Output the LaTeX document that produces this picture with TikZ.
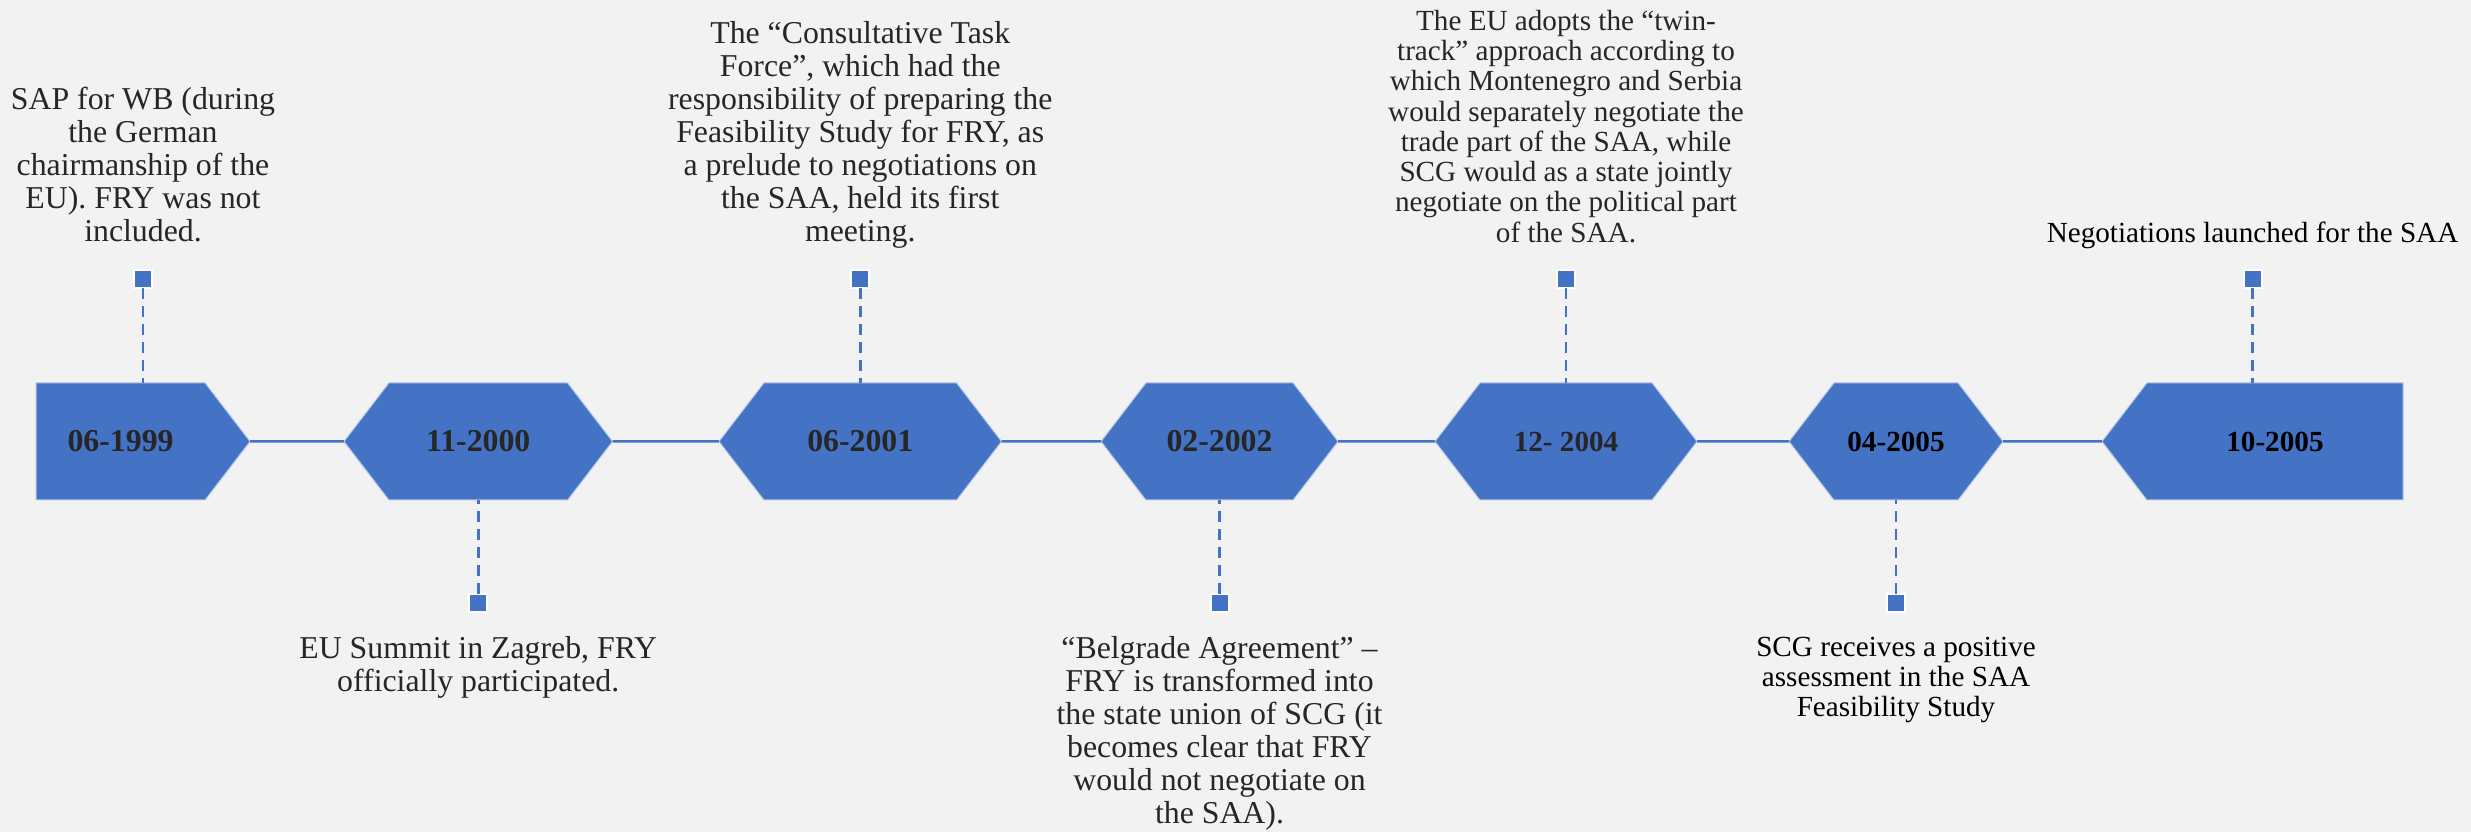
\documentclass[tikz,border=0pt]{standalone}
\usepackage{fontspec}
\setmainfont{Liberation Serif}
\usetikzlibrary{positioning,shapes.symbols}
\definecolor{tlblue}{HTML}{4472C4}
\definecolor{tledge}{HTML}{B4C7E7}
\definecolor{tlback}{HTML}{F2F2F2}
\definecolor{tltext}{HTML}{262626}

\begin{document}
\begin{tikzpicture}[datebox/.style={signal, signal pointer angle=105, fill=tlblue, draw=tledge, line width=0.01cm,
    minimum height=1.17cm, inner sep=0, outer sep=0, text=tltext,
    font=\fontsize{9.05pt}{9.4pt}\selectfont\bfseries},
  smalldate/.style={font=\fontsize{8.3pt}{8.62pt}\selectfont\bfseries},
  hexa/.style={signal to=west and east},
  sqmark/.style={rectangle, fill=tlblue, draw=white, line width=0.02cm, minimum size=0.18cm, inner sep=0, outer sep=0},
  link/.style={draw=tlblue, line width=0.025cm},
  stem/.style={draw=tlblue, line width=0.025cm, dash pattern=on 0.11cm off 0.07cm},
  event/.style={align=center, inner sep=0, text=tltext, font=\fontsize{9.05pt}{9.4pt}\selectfont},
  smalltext/.style={font=\fontsize{8.3pt}{8.62pt}\selectfont},
  evup/.style={execute at end node=\strut},
  evdown/.style={execute at begin node=\strut}]
  \fill[tlback] (0,0) rectangle (24.71,8.32);
  \useasboundingbox (0,0) rectangle (24.71,8.32);

  % the dates
  \node [datebox, signal to=east, minimum width=2.14cm, anchor=west] (d1) at (0.36,3.905) {06-1999};
  \node [datebox, hexa, minimum width=2.685cm, right=0.94cm of d1] (d2) {11-2000};
  \node [datebox, hexa, minimum width=2.825cm, right=1.065cm of d2] (d3) {06-2001};
  \node [datebox, hexa, minimum width=2.37cm, right=0.995cm of d3] (d4) {02-2002};
  \node [datebox, hexa, smalldate, minimum width=2.62cm, right=0.97cm of d4] (d5) {12- 2004};
  \node [datebox, hexa, smalldate, minimum width=2.14cm, right=0.92cm of d5, text=black] (d6) {04-2005};
  \node [datebox, smalldate, signal to=west, minimum width=3.01cm, right=0.99cm of d6, text=black] (d7) {10-2005};

  \path[link] (d1) edge (d2)
        (d2) edge (d3)
        (d3) edge (d4)
        (d4) edge (d5)
        (d5) edge (d6)
        (d6) edge (d7);

  \foreach \i in {1,...,7}
    \path (d\i.180) -- (d\i.0) coordinate[midway] (c\i);

  % markers
  \node [sqmark, above=1.535cm of c1] (m1) {};
  \node [sqmark, below=1.525cm of c2] (m2) {};
  \node [sqmark, above=1.535cm of c3] (m3) {};
  \node [sqmark, below=1.525cm of c4] (m4) {};
  \node [sqmark, above=1.535cm of c5] (m5) {};
  \node [sqmark, below=1.525cm of c6] (m6) {};
  \node [sqmark, above=1.535cm of c7] (m7) {};

  \draw[stem] (m1) -- (m1 |- d1.north);
  \draw[stem] (m2) -- (m2 |- d2.south);
  \draw[stem] (m3) -- (m3 |- d3.north);
  \draw[stem] (m4) -- (m4 |- d4.south);
  \draw[stem] (m5) -- (m5 |- d5.north);
  \draw[stem] (m6) -- (m6 |- d6.south);
  \draw[stem] (m7) -- (m7 |- d7.north);

  % events
  \node [event, evup, above=0.18cm of m1] (e1) {SAP for WB (during\\the German\\chairmanship of the\\EU). FRY was not\\included.};
  \node [event, evdown, below=0.24cm of m2] (e2) {EU Summit in Zagreb, FRY\\officially participated.};
  \node [event, evup, above=0.18cm of m3] (e3) {The “Consultative Task\\Force”, which had the\\responsibility of preparing the\\Feasibility Study for FRY, as\\a prelude to negotiations on\\the SAA, held its first\\meeting.};
  \node [event, evdown, below=0.24cm of m4] (e4) {“Belgrade Agreement” –\\FRY is transformed into\\the state union of SCG (it\\becomes clear that FRY\\would not negotiate on\\the SAA).};
  \node [event, smalltext, evup, above=0.18cm of m5] (e5) {The EU adopts the “twin-\\track” approach according to\\which Montenegro and Serbia\\would separately negotiate the\\trade part of the SAA, while\\SCG would as a state jointly\\negotiate on the political part\\of the SAA.};
  \node [event, smalltext, evdown, below=0.24cm of m6, text=black] (e6) {SCG receives a positive\\assessment in the SAA\\Feasibility Study};
  \node [event, smalltext, evup, above=0.18cm of m7, text=black] (e7) {Negotiations launched for the SAA};
\end{tikzpicture}
\end{document}
